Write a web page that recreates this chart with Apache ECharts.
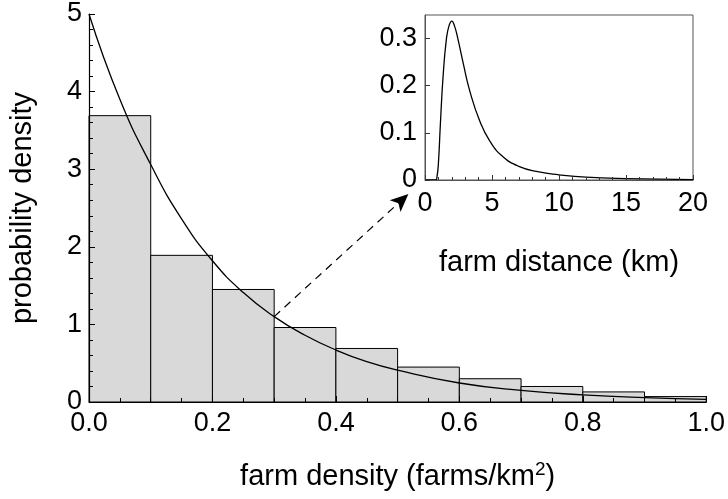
<!DOCTYPE html>
<html>
<head>
<meta charset="utf-8">
<script src="https://cdn.jsdelivr.net/npm/echarts@6/dist/echarts.min.js"></script>
<style>
  html, body { margin: 0; padding: 0; background: #fff; }
  #chart { width: 728px; height: 499px; }
</style>
</head>
<body>
<div id="chart"></div>
<script>
// histogram of farm density: bin edges and bar heights
var binStarts = [0.0, 0.1, 0.2, 0.3, 0.4, 0.5, 0.6, 0.7, 0.8, 0.9];
var binEnds = [0.1, 0.2, 0.3, 0.4, 0.5, 0.6, 0.7, 0.8, 0.9, 1.0];
var binHeights = [3.69, 1.89, 1.45, 0.96, 0.69, 0.45, 0.30, 0.20, 0.13, 0.07];

// fitted density curve
var densityX = [0, 0.05, 0.1, 0.15, 0.2, 0.25, 0.3, 0.35, 0.4, 0.45, 0.5, 0.6, 0.7, 0.8, 0.9, 1.0];
var densityY = [5.0, 3.9, 3.06, 2.36, 1.82, 1.41, 1.10, 0.86, 0.67, 0.52, 0.41, 0.245, 0.15, 0.092, 0.056, 0.034];

// inset: farm distance density
var distX = [0, 0.8, 0.9, 1.0, 1.15, 1.35, 1.6, 1.8, 2.0, 2.2, 2.45, 2.85, 3.35, 4.1, 4.85, 5.8, 7.0, 8.5, 10, 12, 15, 20];
var distY = [0, 0, 0.008, 0.035, 0.12, 0.22, 0.30, 0.328, 0.337, 0.327, 0.30, 0.248, 0.188, 0.124, 0.082, 0.05, 0.029, 0.017, 0.011, 0.006, 0.003, 0.001];

// arrow from the curve to the inset
var arrowFrom = [0.3, 1.10];
var arrowTo = [0.5175, 2.68];

var FONT = "'Liberation Sans', Arial, sans-serif";
var chart = echarts.init(document.getElementById('chart'), null, { renderer: 'canvas' });

var bars = binStarts.map(function (s, i) { return [s, binEnds[i], binHeights[i]]; });
var curve = densityX.map(function (x, i) { return [x, densityY[i]]; });
var inset = distX.map(function (x, i) { return [x, distY[i]]; });

var tickText = { color: '#000', fontFamily: FONT, fontSize: 27 };

var option = {
    backgroundColor: '#fff',
    animation: false,
    grid: [
        { left: 79, top: 14, width: 628, height: 388, show: false },
        { left: 425, top: 15, width: 268, height: 165, show: true, borderColor: '#555', borderWidth: 1, backgroundColor: 'transparent' }
    ],
    xAxis: [
        {
            gridIndex: 0, type: 'value', min: 0, max: 1, interval: 0.2, z: 5,
            axisLine: { onZero: false, lineStyle: { color: '#000', width: 1.2 } },
            axisTick: { inside: true, length: 6, lineStyle: { color: '#000' } },
            minorTick: { show: true, splitNumber: 4, length: 4, lineStyle: { color: '#000' } },
            splitLine: { show: false },
            axisLabel: Object.assign({ margin: 8, formatter: function (v) { return v.toFixed(1); } }, tickText),
            name: 'farm density (farms/km{sup|2})',
            nameLocation: 'middle', nameGap: 58,
            nameTextStyle: {
                color: '#000', fontFamily: FONT, fontSize: 29,
                rich: { sup: { fontFamily: FONT, fontSize: 19, color: '#000', verticalAlign: 'top', padding: [0, 0, 14, 0] } }
            }
        },
        {
            gridIndex: 1, type: 'value', min: 0, max: 20, interval: 5, z: 5,
            axisLine: { onZero: false, lineStyle: { color: '#555', width: 1 } },
            axisTick: { inside: true, length: 5, lineStyle: { color: '#333' } },
            minorTick: { show: true, splitNumber: 5, length: 3, lineStyle: { color: '#333' } },
            splitLine: { show: false },
            axisLabel: Object.assign({ margin: 10 }, tickText),
            name: 'farm distance (km)',
            nameLocation: 'middle', nameGap: 68,
            nameTextStyle: { color: '#000', fontFamily: FONT, fontSize: 29 }
        }
    ],
    yAxis: [
        {
            gridIndex: 0, type: 'value', min: 0, max: 5, interval: 1, z: 5,
            axisLine: { show: true, onZero: false, lineStyle: { color: '#000', width: 1.2 } },
            axisTick: { show: true, inside: true, length: 6, lineStyle: { color: '#000' } },
            minorTick: { show: true, splitNumber: 5, length: 4, lineStyle: { color: '#000' } },
            splitLine: { show: false },
            axisLabel: Object.assign({ margin: 7 }, tickText),
            name: 'probability density',
            nameLocation: 'middle', nameGap: 52, nameRotate: 90,
            nameTextStyle: { color: '#000', fontFamily: FONT, fontSize: 29 }
        },
        {
            gridIndex: 1, type: 'value', min: 0, max: 0.35, interval: 0.1, z: 5,
            axisLine: { show: true, onZero: false, lineStyle: { color: '#555', width: 1 } },
            axisTick: { show: true, inside: true, length: 5, lineStyle: { color: '#333' } },
            splitLine: { show: false },
            axisLabel: Object.assign({ margin: 8, showMaxLabel: false }, tickText)
        }
    ],
    series: [
        {
            type: 'custom',
            xAxisIndex: 0, yAxisIndex: 0, z: 2,
            data: bars,
            encode: { x: [0, 1], y: 2 },
            renderItem: function (params, api) {
                var p0 = api.coord([api.value(0), api.value(2)]);
                var p1 = api.coord([api.value(1), 0]);
                return {
                    type: 'rect',
                    shape: { x: p0[0], y: p0[1], width: p1[0] - p0[0], height: p1[1] - p0[1] },
                    style: { fill: '#d9d9d9', stroke: '#000', lineWidth: 1 }
                };
            }
        },
        {
            type: 'line',
            xAxisIndex: 0, yAxisIndex: 0, z: 3,
            data: curve,
            symbol: 'none',
            smooth: true,
            lineStyle: { color: '#000', width: 1.3 },
            markLine: {
                silent: true,
                symbol: ['none', 'arrow'],
                symbolSize: [12, 18],
                label: { show: false },
                lineStyle: { color: '#000', width: 1.2, type: [8, 6] },
                data: [[{ coord: arrowFrom }, { coord: arrowTo }]]
            }
        },
        {
            type: 'line',
            xAxisIndex: 1, yAxisIndex: 1, z: 3,
            data: inset,
            symbol: 'none',
            smooth: true,
            lineStyle: { color: '#000', width: 1.3 }
        }
    ]
};

chart.setOption(option);
window.addEventListener('resize', function () { chart.resize(); });
</script>
</body>
</html>
